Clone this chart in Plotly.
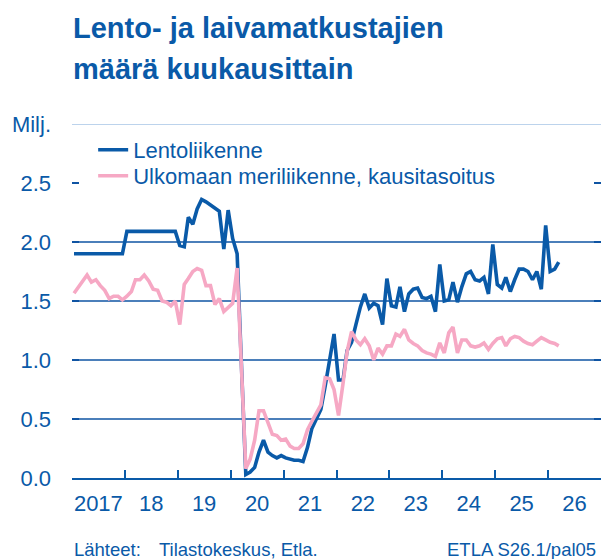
import pandas as pd
import plotly.graph_objects as go

# ---- data (million passengers per month) ----
months = pd.date_range("2017-01-01", periods=111, freq="MS") + pd.Timedelta(days=14)

air = [1.90, 1.90, 1.90, 1.90, 1.90, 1.90, 1.90, 1.90, 1.90, 1.90, 1.90, 1.90,
       2.09, 2.09, 2.09, 2.09, 2.09, 2.09, 2.09, 2.09, 2.09, 2.09, 2.09, 2.09,
       1.97, 1.96, 2.21, 2.15, 2.28, 2.36, 2.34, 2.31, 2.28, 2.26, 1.94, 2.27, 2.03, 1.90,
       0.98, 0.03, 0.05, 0.09, 0.22, 0.32, 0.22, 0.19, 0.17, 0.19, 0.17, 0.16, 0.15, 0.15, 0.14,
       0.26, 0.42, 0.50, 0.58, 0.78, 1.00, 1.22, 0.83, 0.83, 1.08, 1.15, 1.30, 1.45, 1.56, 1.44,
       1.48, 1.46, 1.30,
       1.69, 1.46, 1.45, 1.62, 1.41, 1.56, 1.60, 1.61, 1.53, 1.52, 1.54, 1.41, 1.81, 1.50, 1.51,
       1.66, 1.49, 1.62, 1.73, 1.75,
       1.68, 1.67, 1.70, 1.56, 1.98, 1.64, 1.61, 1.70, 1.58, 1.68, 1.77, 1.77, 1.75, 1.68, 1.75,
       1.60, 2.14, 1.75, 1.77, 1.83]

sea = [1.565, 1.62, 1.66, 1.72, 1.66, 1.68, 1.63, 1.59, 1.52, 1.54, 1.54, 1.51,
       1.54, 1.58, 1.68, 1.68, 1.72, 1.67, 1.60, 1.59, 1.50, 1.49, 1.46, 1.50,
       1.30, 1.64, 1.69, 1.75, 1.775, 1.76, 1.63, 1.63, 1.47, 1.52, 1.41, 1.44, 1.48, 1.78,
       0.93, 0.08, 0.16, 0.32, 0.57, 0.57, 0.47, 0.37, 0.36, 0.32, 0.33, 0.27, 0.25, 0.25, 0.29,
       0.41, 0.48, 0.55, 0.62, 0.85, 0.84, 0.75, 0.53, 0.80, 1.07, 1.24, 1.17, 1.13, 1.18, 1.12,
       1.00, 1.10, 1.05,
       1.12, 1.12, 1.22, 1.20, 1.26, 1.17, 1.14, 1.12, 1.08, 1.06, 1.05, 1.03, 1.145, 1.06, 1.23,
       1.28, 1.06, 1.17, 1.17, 1.12,
       1.11, 1.12, 1.145, 1.09, 1.14, 1.18, 1.19, 1.12, 1.18, 1.20, 1.19, 1.16, 1.14, 1.13, 1.16,
       1.19, 1.17, 1.15, 1.14, 1.12]

series_names = ["Lentoliikenne", "Ulkomaan meriliikenne, kausitasoitus"]

y_tickvals = [0, 0.5, 1.0, 1.5, 2.0, 2.5, 3.0]
y_ticktext = ["0.0", "0.5", "1.0", "1.5", "2.0", "2.5", "Milj."]
grid_levels = [0.5, 1.0, 1.5, 2.0]
top_level = 3.0

year_labels = ["2017", "18", "19", "20", "21", "22", "23", "24", "25", "26"]
year_mid = [f"{2017 + k}-07-02" for k in range(10)]
year_bounds = [f"{2018 + k}-01-01" for k in range(9)]

# ---- style ----
BLUE = "#0a5aa8"
PINK = "#f6a8c4"
GRID = "#0f54a3"
LIGHT = "#7aa7da"
FONT = "Liberation Sans, Arial, sans-serif"

fig = go.Figure()
fig.add_trace(go.Scatter(x=months, y=air, mode="lines", name=series_names[0],
                         line=dict(color=BLUE, width=3.6), legend="legend"))
fig.add_trace(go.Scatter(x=months, y=sea, mode="lines", name=series_names[1],
                         line=dict(color=PINK, width=3.6), legend="legend2"))

for g in grid_levels:
    fig.add_shape(type="line", xref="paper", yref="y", x0=0, x1=1, y0=g, y1=g,
                  line=dict(color=GRID, width=1.4), layer="below")
fig.add_shape(type="line", xref="paper", yref="y", x0=0, x1=1, y0=top_level, y1=top_level,
              line=dict(color=LIGHT, width=1.2), layer="below")

legend_common = dict(xanchor="left", yanchor="top", bgcolor="rgba(0,0,0,0)",
                     font=dict(size=22, color=BLUE, family=FONT), itemwidth=30)

fig.update_layout(
    width=602, height=559,
    margin=dict(l=72, r=1, t=124, b=81),
    paper_bgcolor="white", plot_bgcolor="white",
    font=dict(family=FONT, color=BLUE, size=22),
    showlegend=True,
    legend=dict(x=0.04, y=(478 - 129) / 354, **legend_common),
    legend2=dict(x=0.04, y=(478 - 155) / 354, **legend_common),
    xaxis=dict(
        range=["2017-01-01", "2027-01-01"],
        tickvals=year_mid, ticktext=year_labels, ticks="",
        showgrid=False, zeroline=False,
        showline=True, linecolor=BLUE, linewidth=2.2,
        tickfont=dict(size=22, color=BLUE),
        ticklabelstandoff=4,
        minor=dict(tickvals=year_bounds, ticks="inside", ticklen=8,
                   tickwidth=1.5, tickcolor=BLUE, showgrid=False),
    ),
    yaxis=dict(
        range=[0, 3.0],
        tickvals=y_tickvals, ticktext=y_ticktext,
        ticks="inside", ticklen=7, tickwidth=2.2, tickcolor=GRID,
        mirror="ticks",
        showgrid=False, zeroline=False, showline=False,
        tickfont=dict(size=22, color=BLUE),
        ticklabelstandoff=20,
    ),
)

fig.add_annotation(text="<b>Lento- ja laivamatkustajien</b>", xref="paper", yref="paper",
                   x=0, y=(478 - 28.5) / 354, xanchor="left", yanchor="middle",
                   showarrow=False, xshift=-1, font=dict(size=29, color=BLUE, family=FONT))
fig.add_annotation(text="<b>määrä kuukausittain</b>", xref="paper", yref="paper",
                   x=0, y=(478 - 68.5) / 354, xanchor="left", yanchor="middle",
                   showarrow=False, xshift=-1, font=dict(size=29, color=BLUE, family=FONT))

fig.add_annotation(text="Lähteet:", xref="paper", yref="paper",
                   x=0, y=(478 - 549) / 354, xanchor="left", yanchor="middle",
                   showarrow=False, font=dict(size=18.5, color=BLUE, family=FONT))
fig.add_annotation(text="Tilastokeskus, Etla.", xref="paper", yref="paper",
                   x=(156.5 - 72) / 529, y=(478 - 549) / 354, xanchor="left", yanchor="middle",
                   showarrow=False, font=dict(size=18.5, color=BLUE, family=FONT))
fig.add_annotation(text="ETLA S26.1/pal05", xref="paper", yref="paper",
                   x=(598 - 72) / 529, y=(478 - 549) / 354, xanchor="right", yanchor="middle",
                   showarrow=False, font=dict(size=18.5, color=BLUE, family=FONT))

fig.write_html("out.html", config={"displayModeBar": False},
               post_script="document.body.style.margin='0px';document.body.style.padding='0px';")
